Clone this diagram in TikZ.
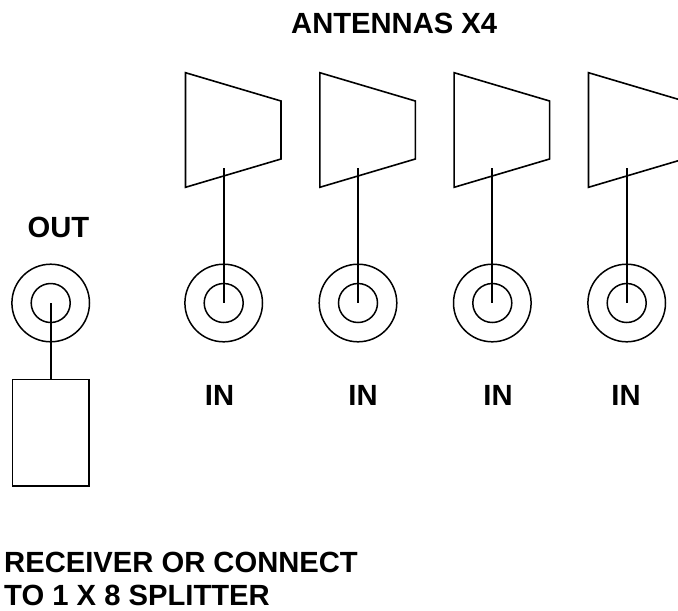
\documentclass[tikz,border=0pt]{standalone}
\usepackage{fontspec}
\setmainfont{Liberation Sans}
\usetikzlibrary{positioning}
\tikzset{
  lbl/.style={font=\fontsize{29.2}{33.4}\selectfont\bfseries, inner sep=0pt, align=left},
  ring/.style={draw=black, circle, line width=1.5pt, inner sep=0pt, outer sep=0pt},
  stem/.style={draw=black, line width=1.8pt}
}
\begin{document}
\begin{tikzpicture}[x = 1pt, y = -1pt]
\useasboundingbox (0,0) rectangle (678,611);
\foreach \i/\xpos/\xlbl in {1/223.7/219.5,2/358/363,3/492.3/498,4/626.7/626}{
\draw[line width = 1.6pt] (\xpos-38.2,72.7) -- (\xpos+57.3,101) -- (\xpos+57.3,159) -- (\xpos-38.2,187.3) -- cycle;
\coordinate (ant\i) at (\xpos,168);
\node[ring, minimum size = 77.6pt] (outer\i) at (\xpos,303) {};
\node[ring, minimum size = 39pt] (inner\i) at (\xpos,303) {};
\draw[stem] (ant\i) -- (inner\i.center);
\node[lbl, anchor=base] (in\i) at (\xlbl,405) {IN};
}
\node[ring, minimum size = 77.6pt] (outer0) at (50.7,303) {};
\node[ring, minimum size = 39pt] (inner0) at (50.7,303) {};
\node[draw, line width = 1.6pt, minimum width = 76.6pt, minimum height = 106.7pt, inner sep=0pt, outer sep=0pt, anchor=north] (receiver) at (50.7,379.3) {};
\draw[stem] (inner0.center) -- (receiver.north);
\node[lbl, anchor=base] (out) at (58.5,237) {OUT};
\node[lbl, anchor=base] (antennas) at (394.2,33.5) {ANTENNAS X4};
\node[lbl, anchor=north west] (splitter) at (4,552) {RECEIVER OR CONNECT\\TO 1 X 8 SPLITTER};
\end{tikzpicture}
\end{document}
